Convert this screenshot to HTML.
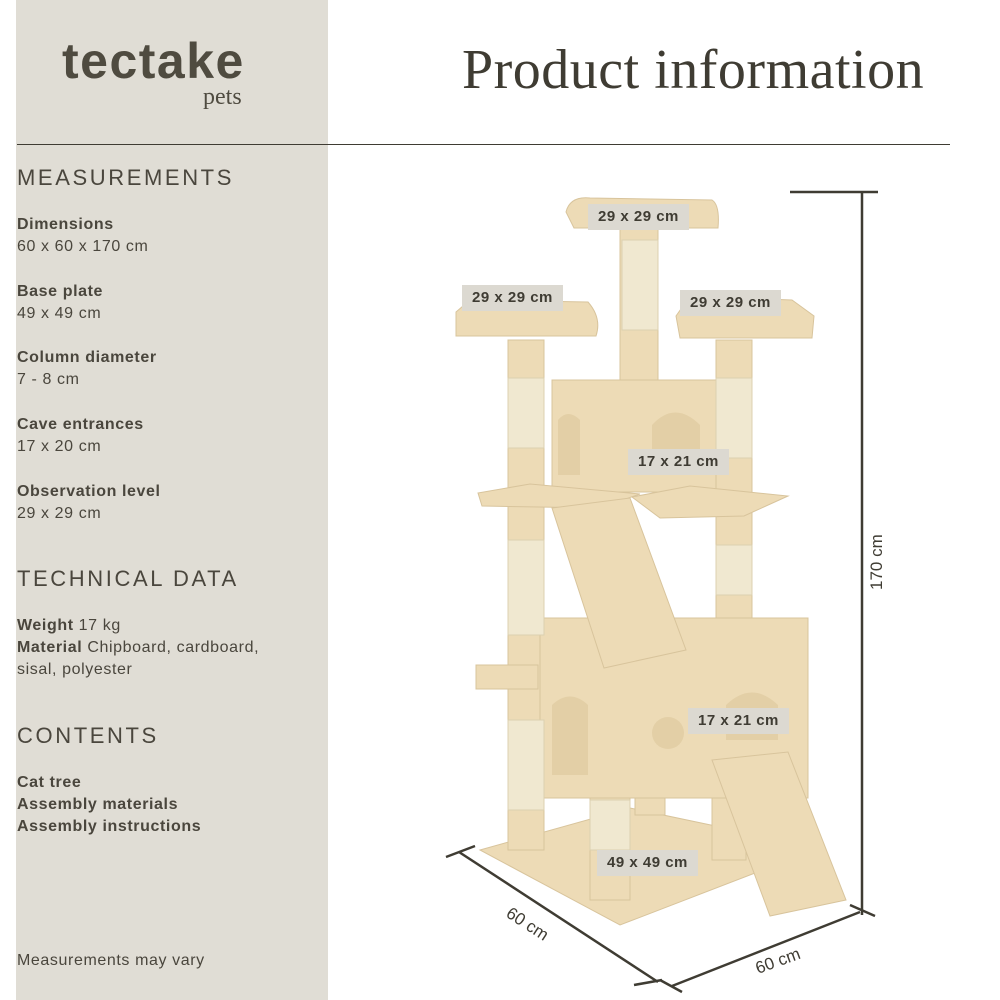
<!DOCTYPE html>
<html><head><meta charset="utf-8"><style>
body{margin:0;width:1000px;height:1000px;background:#fff;position:relative;overflow:hidden;font-family:"Liberation Sans",sans-serif;color:#4a463d}
.panel{position:absolute;left:16px;top:0;width:312px;height:1000px;background:#e0ddd5}
.t{position:absolute;left:17px;font-size:16px;line-height:22px;letter-spacing:0.6px}
.h{position:absolute;left:17px;font-size:22px;letter-spacing:2.6px}
b{font-weight:bold}
.lab{position:absolute;background:#dcd9d1;font-size:15px;font-weight:bold;padding:0 10px;height:26px;line-height:26px;color:#3f3c33;letter-spacing:0.5px}
</style></head><body>
<div class="panel"></div>
<div style="position:absolute;left:62px;top:32px;font-size:50px;font-weight:bold;color:#4f4b40;letter-spacing:1.5px">tectake</div>
<div style="position:absolute;left:203px;top:84px;font-size:24px;font-family:'Liberation Serif',serif;color:#4f4b40">pets</div>
<div style="position:absolute;left:462px;top:38px;font-size:56px;font-family:'Liberation Serif',serif;color:#3f3c33;letter-spacing:0.5px">Product information</div>
<div style="position:absolute;left:17px;top:144px;width:933px;height:1px;background:#3f3c33"></div>
<div class="h" style="top:165px">MEASUREMENTS</div>
<div class="t" style="top:214px"><b>Dimensions</b><br>60 x 60 x 170 cm</div>
<div class="t" style="top:281px"><b>Base plate</b><br>49 x 49 cm</div>
<div class="t" style="top:347px"><b>Column diameter</b><br>7 - 8 cm</div>
<div class="t" style="top:414px"><b>Cave entrances</b><br>17 x 20 cm</div>
<div class="t" style="top:481px"><b>Observation level</b><br>29 x 29 cm</div>
<div class="h" style="top:566px">TECHNICAL DATA</div>
<div class="t" style="top:615px"><b>Weight</b> 17 kg<br><b>Material</b> Chipboard, cardboard,<br>sisal, polyester</div>
<div class="h" style="top:723px">CONTENTS</div>
<div class="t" style="top:772px"><b>Cat tree<br>Assembly materials<br>Assembly instructions</b></div>
<div class="t" style="top:950px">Measurements may vary</div>

<svg style="position:absolute;left:0;top:0" width="1000" height="1000">
<g fill="#eddbb6" stroke="#d8c49c" stroke-width="1">
<polygon points="480,850 630,808 820,848 620,925"/>
<rect x="508" y="340" width="36" height="510"/>
<rect x="620" y="225" width="38" height="160"/>
<rect x="716" y="340" width="36" height="295"/>
<rect x="590" y="780" width="40" height="120"/>
<rect x="712" y="780" width="34" height="80"/>
<rect x="635" y="780" width="30" height="35"/>
<path d="M566,212 Q570,196 590,198 L712,200 Q720,205 718,228 L574,228 Z"/>
<path d="M456,312 L470,300 L588,302 Q602,318 596,336 L456,336 Z"/>
<path d="M676,316 L690,296 L792,300 L814,316 L812,338 L680,338 Z"/>
<rect x="552" y="380" width="164" height="112"/>
<polygon points="478,493 530,484 640,494 600,508 482,506"/>
<polygon points="632,497 690,486 788,496 744,516 660,518"/>
<rect x="540" y="618" width="268" height="180"/>
<rect x="476" y="665" width="62" height="24"/>
<polygon points="552,508 630,498 686,650 604,668"/>
<polygon points="712,760 788,752 846,900 770,916"/>
</g>
<g fill="#f0e8d0" stroke="#dcd0b0">
<rect x="508" y="378" width="36" height="70"/>
<rect x="508" y="540" width="36" height="95"/>
<rect x="508" y="720" width="36" height="90"/>
<rect x="622" y="240" width="36" height="90"/>
<rect x="716" y="378" width="36" height="80"/>
<rect x="716" y="545" width="36" height="50"/>
<rect x="590" y="800" width="40" height="50"/>
</g>
<g fill="#e3cfa6">
<path d="M558,475 L558,420 Q568,408 580,420 L580,475Z"/>
<path d="M652,475 L652,425 Q675,400 700,425 L700,475Z"/>
<path d="M552,775 L552,705 Q570,688 588,705 L588,775Z"/>
<circle cx="668" cy="733" r="16"/>
<path d="M726,740 L726,705 Q752,680 778,705 L778,740Z"/>
</g>
<g stroke="#3f3c33" stroke-width="2.5" fill="none">
<line x1="862" y1="192" x2="862" y2="915"/>
<line x1="790" y1="192" x2="878" y2="192"/>
<line x1="850" y1="905" x2="875" y2="916"/>
<line x1="459" y1="852" x2="658" y2="982"/>
<line x1="446" y1="857" x2="475" y2="846"/>
<line x1="634" y1="985" x2="662" y2="980"/>
<line x1="672" y1="986" x2="860" y2="912"/>
<line x1="660" y1="980" x2="682" y2="992"/>
</g>
<text x="0" y="0" font-family="Liberation Sans" font-size="17" fill="#3f3c33" transform="translate(882,590) rotate(-90)">170 cm</text>
<text x="0" y="0" font-family="Liberation Sans" font-size="17" fill="#3f3c33" transform="translate(505,916) rotate(33)">60 cm</text>
<text x="0" y="0" font-family="Liberation Sans" font-size="17" fill="#3f3c33" transform="translate(758,974) rotate(-20)">60 cm</text>
</svg>
<div class="lab" style="left:588px;top:204px">29 x 29 cm</div>
<div class="lab" style="left:462px;top:285px">29 x 29 cm</div>
<div class="lab" style="left:680px;top:290px">29 x 29 cm</div>
<div class="lab" style="left:628px;top:449px">17 x 21 cm</div>
<div class="lab" style="left:688px;top:708px">17 x 21 cm</div>
<div class="lab" style="left:597px;top:850px">49 x 49 cm</div>
</body></html>
